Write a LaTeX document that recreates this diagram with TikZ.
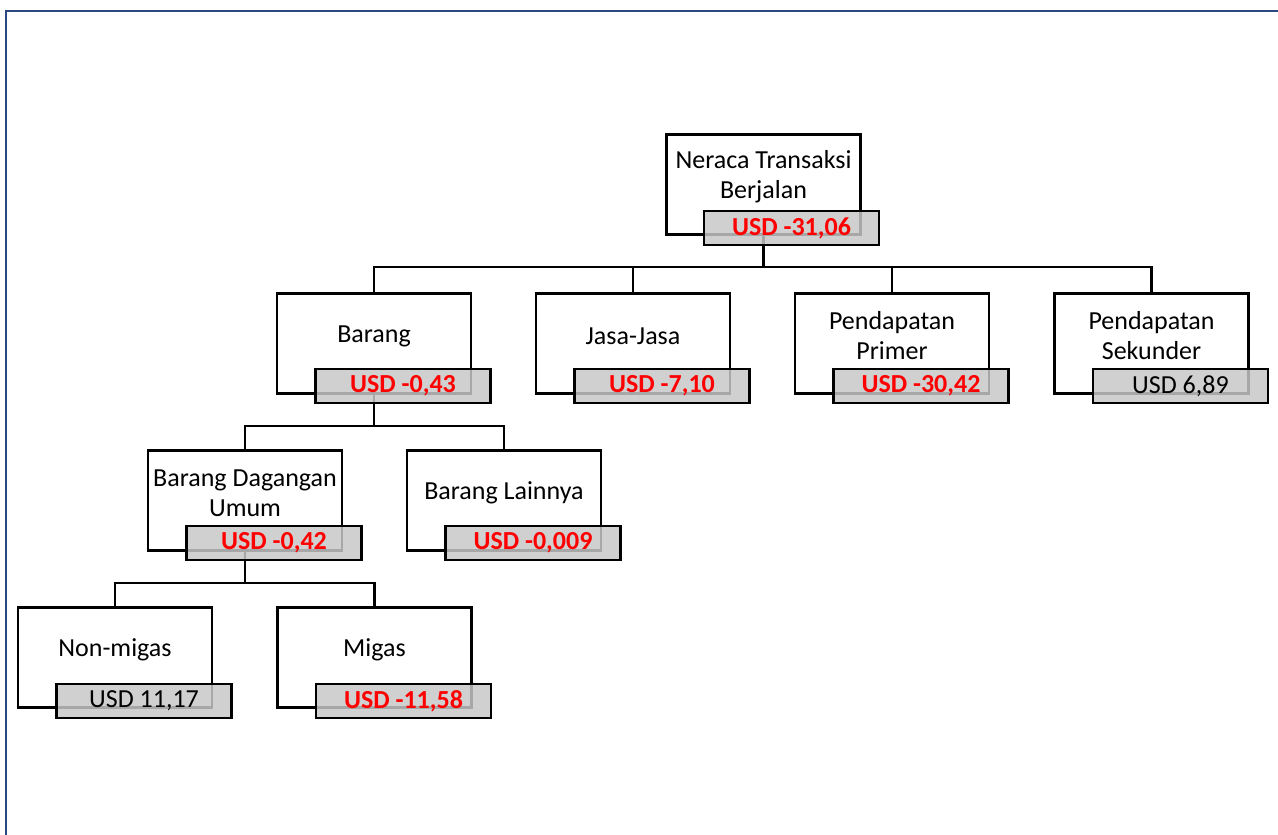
\documentclass[tikz,border=0pt]{standalone}
\usepackage{fontspec}
\setmainfont{Carlito}
\definecolor{framenavy}{RGB}{44,72,128}
\definecolor{valred}{RGB}{255,0,0}
\definecolor{valgray}{RGB}{199,199,199}
\tikzset{
  mainbox/.style={draw=black, line width=2.6pt, fill=white, minimum width=194pt, minimum height=100pt, inner sep=0pt, anchor=north},
  lbl/.style={font=\fontsize{26}{30}\selectfont, align=center, inner sep=0pt},
  valbox/.style={draw=black, line width=2.6pt, fill=valgray, fill opacity=0.84, text opacity=1, minimum width=175pt, minimum height=34pt, inner sep=0pt, font=\fontsize{26}{30}\selectfont},
  negval/.style={text=valred, font=\fontsize{26}{30}\selectfont\bfseries},
  posval/.style={text=black},
  conn/.style={draw=black, line width=2.6pt},
  frameline/.style={draw=framenavy, line width=2.4pt}
}
\newcommand{\entrybox}[4]{%
  % #1 name, #2 center x, #3 top y, #4 label
  \node[mainbox] (#1) at (#2,#3) {};
  \node[lbl] (#1L) at (#2,#3+44) {#4};
}
\begin{document}
\begin{tikzpicture}[x=1pt,y=-1pt]
\useasboundingbox (0,0) rectangle (1278,835);
\fill[white] (0,0) rectangle (1278,835);
\draw[frameline] (6,835) -- (6,11) -- (1278,11);

% main boxes and labels
\entrybox{nt}{763.5}{133}{Neraca Transaksi\\Berjalan}
\entrybox{br}{374}{292}{Barang}
\entrybox{js}{633}{292}{Jasa-Jasa}
\entrybox{pp}{892}{292}{Pendapatan\\Primer}
\entrybox{ps}{1151.5}{292}{Pendapatan\\Sekunder}
\entrybox{bd}{245}{449}{Barang Dagangan\\Umum}
\entrybox{bl}{504}{449}{Barang Lainnya}
\entrybox{nm}{115}{606}{Non-migas}
\entrybox{mg}{374.5}{606}{Migas}

% bus coordinates
\coordinate (b1) at (763.5,267);
\coordinate (b2) at (374,426);
\coordinate (b3) at (245,583);

% connectors
\draw[conn] (nt.south) -- (b1);
\draw[conn] (b1) -| (br.north);
\draw[conn] (b1) -| (js.north);
\draw[conn] (b1) -| (pp.north);
\draw[conn] (b1) -| (ps.north);
\draw[conn] (br.south) -- (b2);
\draw[conn] (b2) -| (bd.north);
\draw[conn] (b2) -| (bl.north);
\draw[conn] (bd.south) -- (b3);
\draw[conn] (b3) -| (nm.north);
\draw[conn] (b3) -| (mg.north);

% value boxes
\node[valbox, negval] (ntV) at (791.5,228) {USD -31,06};
\node[valbox, negval] (brV) at (403,386) {USD -0,43};
\node[valbox, negval] (jsV) at (662,386) {USD -7,10};
\node[valbox, negval] (ppV) at (921,386) {USD -30,42};
\node[valbox, posval] (psV) at (1180.5,386) {USD 6,89};
\node[valbox, negval] (bdV) at (274,543) {USD -0,42};
\node[valbox, negval] (blV) at (533,543) {USD -0,009};
\node[valbox, posval] (nmV) at (144,701) {USD 11,17};
\node[valbox, negval] (mgV) at (403.5,701) {USD -11,58};
\end{tikzpicture}
\end{document}
